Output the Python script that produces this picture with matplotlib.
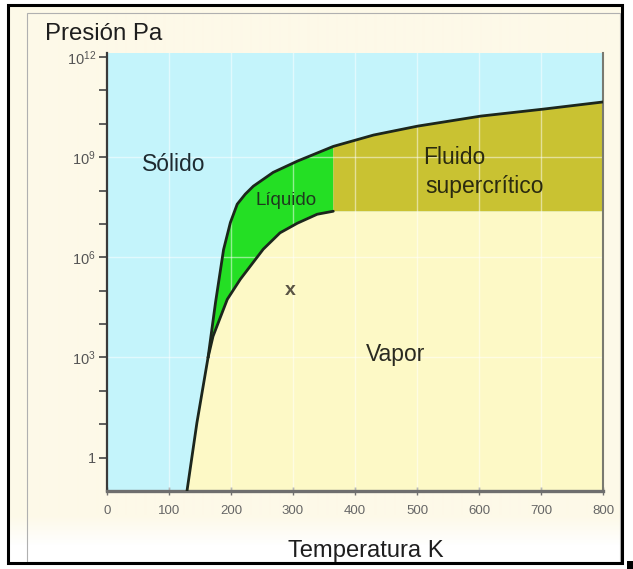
import numpy as np
import matplotlib
matplotlib.use("Agg")
import matplotlib.pyplot as plt
from matplotlib.patches import Rectangle
from matplotlib.colors import to_rgb

plt.rcParams['font.family'] = ['Liberation Sans', 'DejaVu Sans']
plt.rcParams['mathtext.fontset'] = 'custom'
plt.rcParams['mathtext.rm'] = 'Liberation Sans'
plt.rcParams['mathtext.it'] = 'Liberation Sans:italic'

# ---- data (temperature in K, pressure in Pa) ----
subl_T = [129, 145, 163]
subl_P = [1.0e-1, 1.1e1, 1.0e3]

melt_T = [163, 175, 188, 199, 210, 223, 236, 268, 307, 365, 430, 501, 603, 704, 800]
melt_P = [1.0e3, 4.4e4, 1.7e6, 1.1e7, 3.9e7, 7.8e7, 1.35e8, 3.5e8, 7.6e8, 2.1e9,
          4.6e9, 8.5e9, 1.7e10, 2.75e10, 4.5e10]

vap_T = [163, 171, 194, 215, 252, 279, 307, 339, 365]
vap_P = [1.0e3, 4.3e3, 5.5e4, 2.2e5, 1.75e6, 5.4e6, 1.05e7, 1.95e7, 2.4e7]

marker_T = 296
marker_P = 1.0e5

x_ticks = [0, 100, 200, 300, 400, 500, 600, 700, 800]
x_ticklabels = ['0', '100', '200', '300', '400', '500', '600', '700', '800']
y_ticks = [1e0, 1e1, 1e2, 1e3, 1e4, 1e5, 1e6, 1e7, 1e8, 1e9, 1e10, 1e11, 1e12]
y_ticklabels = ['1', '', '', '$10^{3}$', '', '', '$10^{6}$', '', '', '$10^{9}$', '', '', '$10^{12}$']
y_grid = [1e3, 1e6, 1e9]
x_grid = [100, 200, 300, 400, 500, 600, 700]

# ---- colours ----
c_solid = '#c4f4fb'
c_vapor = '#fdf9c6'
c_liquid = '#24df24'
c_super = '#c9c232'
c_line = '#1c261c'
c_cream = '#fdf9e8'

W, H = 633, 569
fig = plt.figure(figsize=(W / 100, H / 100), dpi=100)
fig.patch.set_facecolor('white')

def fx(px):
    return px / W

def fy(py):
    return 1 - py / H

# background with soft fade to white at the bottom
bg = fig.add_axes([fx(8), fy(563), (622 - 8) / W, (563 - 5) / H])
bg.set_zorder(-5)
bg.axis('off')
rows = np.arange(5, 563)
cream = np.array(to_rgb(c_cream))
white = np.ones(3)
w = np.clip((rows - 515) / 30.0, 0, 1)[:, None]
grad = cream * (1 - w) + white * w
bg.imshow(grad[:, None, :], aspect='auto', extent=(0, 1, 0, 1), interpolation='bilinear')
bg.set_xlim(0, 1)
bg.set_ylim(0, 1)

# frames
fig.patches.append(Rectangle((fx(27), fy(562)), (620 - 27) / W, (562 - 13) / H,
                             transform=fig.transFigure, facecolor='none',
                             edgecolor='#b0b0b0', linewidth=0.8, zorder=4))
fig.patches.append(Rectangle((fx(8), fy(563)), (622 - 8) / W, (563 - 5) / H,
                             transform=fig.transFigure, facecolor='none',
                             edgecolor='black', linewidth=2.2, zorder=5))
fig.patches.append(Rectangle((fx(627), fy(569)), 6 / W, 8 / H,
                             transform=fig.transFigure, facecolor='black',
                             edgecolor='none', zorder=5))

ax = fig.add_axes([fx(107), fy(491), (603 - 107) / W, (491 - 53) / H])
ax.set_zorder(1)
ax.set_facecolor(c_solid)
ax.set_yscale('log')
ax.set_xlim(0, 800)
ax.set_ylim(1e-1, 10 ** 12.12)

Pc = vap_P[-1]
Tc = vap_T[-1]
ymin = 1e-1

# vapor region
vT = subl_T + vap_T[1:] + [800, 800, subl_T[0]]
vP = subl_P + vap_P[1:] + [Pc, ymin, ymin]
ax.fill(vT, vP, color=c_vapor, zorder=1, lw=0)

# liquid region
liqT = [t for t in melt_T if t <= Tc]
liqP = [p for t, p in zip(melt_T, melt_P) if t <= Tc]
ax.fill(liqT + vap_T[::-1], liqP + vap_P[::-1], color=c_liquid, zorder=1, lw=0)

# supercritical region
scT = [t for t in melt_T if t >= Tc]
scP = [p for t, p in zip(melt_T, melt_P) if t >= Tc]
ax.fill(scT + [800, Tc], scP + [Pc, Pc], color=c_super, zorder=1, lw=0)

# grid
for g in x_grid:
    ax.axvline(g, color='white', alpha=0.5, lw=1.0, zorder=2)
for g in y_grid:
    ax.axhline(g, color='white', alpha=0.5, lw=1.0, zorder=2)

# boundary curves
for T, P in ((subl_T, subl_P), (melt_T, melt_P), (vap_T, vap_P)):
    ax.plot(T, P, color=c_line, lw=2.0, solid_capstyle='round',
            solid_joinstyle='round', zorder=3)

# region labels
ax.text(56, 10 ** 8.59, 'Sólido', fontsize=16.5, color='#1e2a30', va='baseline', ha='left', zorder=4)
ax.text(239, 10 ** 7.56, 'Líquido', fontsize=13.5, color='#1e3a1e', va='baseline', ha='left', zorder=4)
ax.text(510, 10 ** 8.79, 'Fluido', fontsize=16.5, color='#2a2a10', va='baseline', ha='left', zorder=4)
ax.text(513, 10 ** 7.92, 'supercrítico', fontsize=16.5, color='#2a2a10', va='baseline', ha='left', zorder=4)
ax.text(417, 10 ** 2.9, 'Vapor', fontsize=16.5, color='#2a2a20', va='baseline', ha='left', zorder=4)
ax.text(marker_T, marker_P, 'x', fontsize=14, fontweight='bold', color='#5a5444',
        ha='center', va='center', zorder=4)

# ticks
ax.set_xticks(x_ticks)
ax.set_xticklabels(x_ticklabels)
ax.set_yticks(y_ticks)
ax.set_yticklabels(y_ticklabels)
ax.yaxis.set_minor_locator(matplotlib.ticker.NullLocator())
ax.tick_params(axis='x', direction='inout', length=6, width=1, color='#707070',
               labelcolor='#666666', labelsize=9.5, pad=7)
ax.tick_params(axis='y', direction='out', length=6, width=1.2, color='#444444',
               labelcolor='#555555', labelsize=10.5, pad=2)

ax.spines['top'].set_visible(False)
ax.spines['left'].set_color('#3a3a3a')
ax.spines['left'].set_linewidth(1.6)
ax.spines['bottom'].set_color('#6e6e6e')
ax.spines['bottom'].set_linewidth(2.4)
ax.spines['right'].set_color('#7a7a70')
ax.spines['right'].set_linewidth(1.5)

# axis titles
fig.text(fx(45), fy(40), 'Presión Pa', fontsize=17.3, color='#1e1e1e', ha='left', va='baseline')
fig.text(fx(366), fy(557), 'Temperatura K', fontsize=17.1, color='#1e1e1e', ha='center', va='baseline')

fig.savefig('out.png', dpi=100)
